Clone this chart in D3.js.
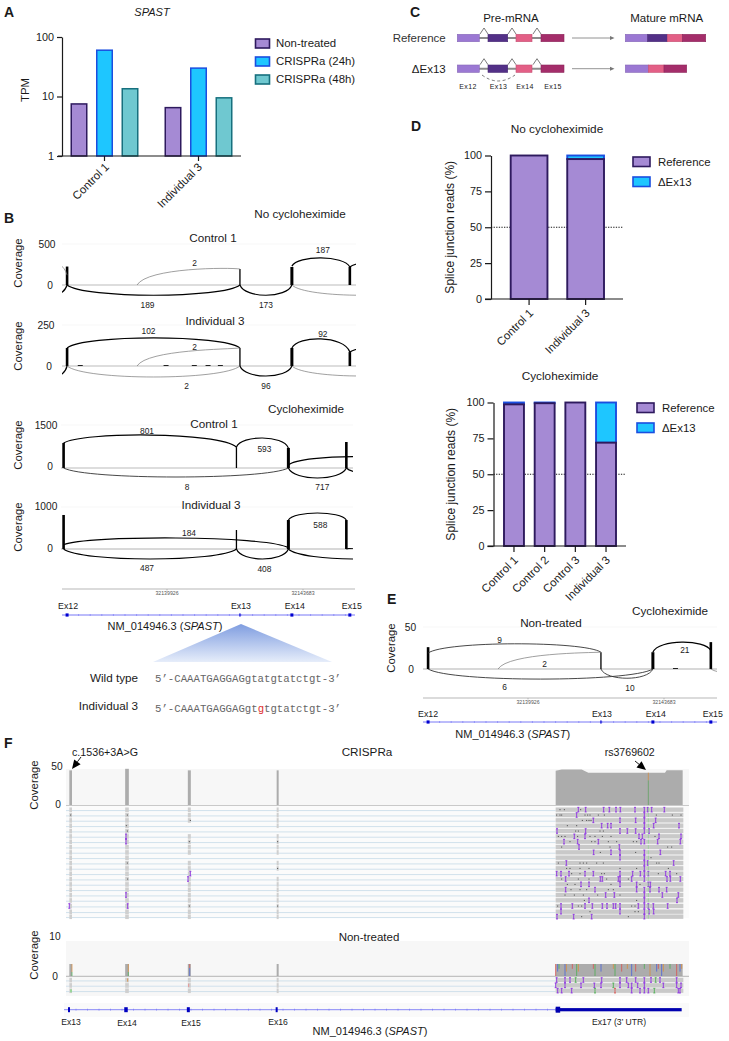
<!DOCTYPE html>
<html><head><meta charset="utf-8">
<script src="https://d3js.org/d3.v7.min.js"></script>
<style>html,body{margin:0;padding:0;background:#fff}svg{display:block}text{font-family:"Liberation Sans",Arial,sans-serif;fill:#1a1a1a}</style>
</head><body><div id="c"></div>
<script>
// ---------- DATA ----------
const tpmSamples=["Control 1","Individual 3"];
const tpmConditions=["Non-treated","CRISPRa (24h)","CRISPRa (48h)"];
const tpmControl1=[7.5,60,13.5];
const tpmIndividual3=[6.5,30,9.5];
const tpmTicks=[1,10,100];

const preExons=["Ex12","Ex13","Ex14","Ex15"];

const dNoChxSamples=["Control 1","Individual 3"];
const dNoChxRef=[100,97.5];
const dChxSamples=["Control 1","Control 2","Control 3","Individual 3"];
const dChxRef=[98.7,99.5,100,72];
const pctTicks=[0,25,50,75,100];

// genomic coordinates
const exonBp={Ex11:32135870,Ex12:32137166,Ex13:32141941,Ex14:32143376,Ex15:32144977,Ex16:32147185,Ex17:32148200,Cry:32139098};
const axisBp=[32139926,32143683];
// junctions: from, to, start coverage, peak coverage, end coverage, reads, show label
const sC1=[["Ex11","Ex12",230,320,120,1,0],["Ex11","Ex12",-60,-160,0,100,0],["Cry","Ex13",0,185,195,2,1],["Ex12","Ex13",0,-125,0,189,1],["Ex13","Ex14",0,-125,0,173,1],["Ex14","Ex15",230,330,220,187,1],["Ex14","Ex16",0,-125,0,1,0],["Ex15","Ex17",220,310,220,100,0]];
const sI3=[["Ex11","Ex12",-40,-90,0,100,0],["Ex12","Ex13",110,171,110,102,1],["Cry","Ex13",0,90,110,2,1],["Ex12","Ex13",0,-67,0,2,1],["Ex13","Ex14",0,-61,0,96,1],["Ex14","Ex15",110,165,85,92,1],["Ex14","Ex16",0,-61,0,1,0],["Ex15","Ex17",85,130,85,100,0]];
const cC1=[["Ex12","Ex13",870,1150,730,801,1],["Ex13","Ex14",730,1047,700,593,1],["Ex12","Ex14",0,-314,0,8,1],["Ex14","Ex15",0,-349,0,717,1],["Ex14","Ex16",105,400,105,100,0],["Ex15","Ex17",0,-300,0,100,0]];
const cI3=[["Ex12","Ex14",100,262,30,184,1],["Ex12","Ex13",0,-238,0,487,1],["Ex13","Ex14",0,-238,0,408,1],["Ex14","Ex15",690,857,690,588,1],["Ex14","Ex16",0,-238,0,100,0],["Ex15","Ex17",0,60,100,100,0]];
const eNT=[["Ex12","Ex13",19,30,20,9,1],["Cry","Ex13",0,17,20,2,1],["Ex12","Ex14",0,-12,0,6,1],["Ex13","Ex14",0,-11,0,10,1],["Ex14","Ex15",20,32,22,21,1],["Ex15","Ex17",0,-8,0,1,0]];
const barsC1=[225,195,220,220], barsI3=[110,110,110,85], barsCC1=[873,730,700,907], barsCI3=[810,452,690,690], barsE=[26,20,20,32];
const blipsI3=[32137530,32139900,32140680,32141060,32141400];
const blipsE=[32144000];

// IGV track coordinates
const igvExons=[{p:212,w:8,gaps:[]},{p:381,w:11,gaps:[]},{p:568,w:9,gaps:[272,288,368]},{p:833,w:6,gaps:[288,368,416]}];
const igvCovTop=[45,47,45,45];
const ex17Pos=[572,590,650,670,900,905,953];
const ex17Cov=[44.5,46,46,42,42,45,45];
const ex17Range=[572,955];
const readRows=[224,240,256,272,288,304,320,336,352,368,384,400,416,432,448,464,480,496,513,530,545];
const ex17Ins=[
[640,662,716,733,753,766,810,838,848,860,898],
[635,838],
[685,765,812,838,872],
[710,728,738,838,866,942],
[576,662,765,787,812,838,852],
[628,660,822,832,882,948],
[597,638,700,828,838,878,946],
[642,763],
[686,738,765,838,886],
[765,838],
[604,838,848,926],
[838],
[575,588,612,660,685,765,803,826,838,850,902,915],
[602,706,712,760,765,800,838,906,916,946],
[648,672,765,815,850,856],
[602,690,815,838,855,882,905],
[722,748,838,892,940],
[672,838,936],
[588,622,660,682,712,726,745,752,765,820,838,850,865,908],
[588,765,838,852,866],
[576,626,680,838]];
const ex17Dots=[
[585,598,647],
[575,585,590,660,668,675,700,718,874,922,948],
[652,665,672,678],
[607,635],
[632,640,705,715],
[580,590,600,638,675,690,712,738,870],
[615,680,690,730,755,805,815],
[590,735,908,920],
[706,812],
[858],
[580,645,655,665,695,715,875,882],
[605,615,645,672,765,815,910],
[620,645,710,718,880,935],
[590,640,672,725,790],
[607,630,738,825],
[618,645,665,730,745],
[600,628,655,698,765],
[658,815],
[578,640,650,800,810],
[675,810,820],
[650,790]];
const introIns=[[378,304],[378,320],[378,480],[383,513],[571,416],[564,432],[208,513]];
const introDots=[[212,240],[382,240],[379,272],[382,288],[382,384],[383,432],[571,256],[568,320],[568,513],[833,320],[833,400],[833,513]];
const rsPos=850;
const ntRows=[735,751,767];
const ntCovTop=3;
const ntCovTicks=[[572,"#d9534f"],[578,"#4a62d8"],[582,"#4caf50"],[600,"#4a62d8"],[604,"#d98b3a"],[622,"#d9534f"],[635,"#4caf50"],[640,"#d98b3a"],[685,"#d9534f"],[690,"#4caf50"],[708,"#4a62d8"],[745,"#d98b3a"],[750,"#4caf50"],[770,"#d9534f"],[787,"#d98b3a"],[800,"#4a62d8"],[812,"#d9534f"],[838,"#4caf50"],[855,"#d98b3a"],[875,"#4a62d8"],[880,"#d9534f"],[890,"#4a62d8"],[895,"#d98b3a"],[915,"#4caf50"],[935,"#d9534f"],[945,"#4a62d8"],[950,"#d98b3a"]];
const ntMarks=[
[[575,"i"],[600,"i"],[615,"i"],[632,"g"],[655,"i"],[710,"i"],[765,"i"],[785,"i"],[812,"i"],[838,"i"],[858,"i"],[872,"g"],[885,"i"],[935,"i"]],
[[572,"i"],[600,"i"],[648,"i"],[688,"i"],[708,"i"],[745,"g"],[765,"i"],[790,"i"],[800,"i"],[818,"i"],[838,"i"],[895,"i"],[935,"i"],[948,"i"]],
[[578,"i"],[590,"i"],[620,"i"],[690,"g"],[750,"r"],[800,"i"],[825,"i"],[838,"i"],[850,"i"],[868,"g"],[940,"i"],[945,"i"]]];
const igvGeneExons=[[207,"Ex13"],[378,"Ex14"],[565,"Ex15"],[830,"Ex16"]];

// ---------- HELPERS ----------
const W=729,H=1041;
const svg=d3.select("#c").append("svg").attr("width",W).attr("height",H);
const defs=svg.append("defs");
const PURPLE="#a58ad4",DARK="#2e1a5e",BLUE="#1ec6ff",BLUEDK="#1a4ee0",TEAL="#6fc8d0",TEALDK="#17707e";
const FS=11.4;
function T(x,y,s,o={}){const t=svg.append("text").attr("x",x).attr("y",y).attr("dy",".35em").attr("font-size",o.size||FS).attr("text-anchor",o.anchor||"middle").text(s);
 if(o.italic)t.attr("font-style","italic");if(o.bold)t.attr("font-weight","bold");if(o.rotate!=null)t.attr("transform",`rotate(${o.rotate} ${x} ${y})`);if(o.fill)t.style("fill",o.fill);if(o.font)t.style("font-family",o.font);return t;}
function rich(x,y,parts,o={}){const t=T(x,y,"",o);parts.forEach(p=>{const s=t.append("tspan").text(p[0]);if(p[1]==="i")s.attr("font-style","italic");if(p[1]&&p[1]!=="i")s.style("fill",p[1]);});return t;}
function styleAxis(g,w=1.2){g.selectAll("path,line").attr("stroke","#1a1a1a").attr("stroke-width",w);g.selectAll("text").style("font-size","10.8px").style("fill","#1a1a1a");}
function rotLabels(labels,xs,y){labels.forEach((l,i)=>T(xs[i],y,l,{anchor:"end",rotate:-45}));}
function legend(items,x,ys,tx,bw,bh){items.forEach((it,i)=>{svg.append("rect").attr("x",x).attr("y",ys[i]).attr("width",bw).attr("height",bh).attr("fill",it[1]).attr("stroke",it[2]).attr("stroke-width",1.6);T(tx,ys[i]+bh/2,it[0],{anchor:"start"});});}

// ---------- PANEL LETTERS ----------
[["A",4,12],["B",4,218],["C",410,12],["D",411,126],["E",387,599],["F",4,743]].forEach(d=>T(d[1],d[2],d[0],{anchor:"start",bold:true,size:14}));

// ---------- A ----------
(function(){
 const y=d3.scaleLog().domain([1,100]).range([156,37]);
 const x0=d3.scalePoint().domain(tpmSamples).range([104.5,198.5]);
 const x1=d3.scalePoint().domain(tpmConditions).range([-25.5,25.5]);
 const bw=15.5;
 const styles=[[PURPLE,DARK],[BLUE,BLUEDK],[TEAL,TEALDK]];
 [tpmControl1,tpmIndividual3].forEach((vals,si)=>{vals.forEach((v,ci)=>{
  svg.append("rect").attr("x",x0(tpmSamples[si])+x1(tpmConditions[ci])-bw/2).attr("y",y(v)).attr("width",bw).attr("height",y(1)-y(v))
   .attr("fill",styles[ci][0]).attr("stroke",styles[ci][1]).attr("stroke-width",1.5);});});
 svg.append("g").attr("transform","translate(62,0)").call(d3.axisLeft(y).tickValues(tpmTicks).tickFormat(d3.format("d")).tickSize(5).tickSizeOuter(0)).call(styleAxis);
 svg.append("line").attr("x1",58).attr("x2",241).attr("y1",156).attr("y2",156).attr("stroke","#1a1a1a").attr("stroke-width",1.2);
 tpmSamples.forEach(s=>svg.append("line").attr("x1",x0(s)).attr("x2",x0(s)).attr("y1",156).attr("y2",161).attr("stroke","#1a1a1a").attr("stroke-width",1.2));
 rotLabels(tpmSamples,[107,200],165);
 T(152,12,"SPAST",{italic:true,size:11});
 T(25,90,"TPM",{rotate:-90});
 legend(tpmConditions.map((c,i)=>[c,styles[i][0],styles[i][1]]),255.5,[39,57,75],276,14,9);
})();

// ---------- SASHIMI ----------
function sashimi(o){
 const x=d3.scaleLinear().domain(axisBp).range([167+o.dx,303+o.dx]);
 const y=d3.scaleLinear().domain([0,o.max]).range([o.y0,o.yTop]);
 const id="cl"+o.id;
 defs.append("clipPath").attr("id",id).append("rect").attr("x",o.xl).attr("y",o.yTop-5).attr("width",o.xr-o.xl).attr("height",o.y0-o.yTop+40);
 const g=svg.append("g").attr("clip-path",`url(#${id})`);
 g.append("line").attr("x1",o.xl).attr("x2",o.xr).attr("y1",o.yTop).attr("y2",o.yTop).attr("stroke","#f2f2f2").attr("stroke-width",.6);
 g.append("line").attr("x1",o.xl).attr("x2",o.xr).attr("y1",o.y0).attr("y2",o.y0).attr("stroke",o.thick?"#d8d8d8":"#aaa").attr("stroke-width",o.thick?2:.8);
 const ex=["Ex12","Ex13","Ex14","Ex15"],ew=[2.6,1.3,3,2.6];
 o.bars.forEach((v,i)=>{const X=x(exonBp[ex[i]]);g.append("rect").attr("x",X-ew[i]/2).attr("y",y(v)).attr("width",ew[i]).attr("height",o.y0-y(v)).attr("fill","#000");});
 (o.blips||[]).forEach(b=>g.append("rect").attr("x",x(b)-2.5).attr("y",o.y0-1).attr("width",5).attr("height",1).attr("fill","#222"));
 o.arcs.forEach((a,i)=>{
  const x0=x(exonBp[a[0]]),x1=x(exonBp[a[1]]),w=x1-x0;
  const ys=y(a[2]),ye=y(a[4]),yp=y(a[3]);
  const c=(yp-(ys+ye)/8)/0.75;
  const p=d3.path();p.moveTo(x0,ys);p.bezierCurveTo(x0+w*0.1,c,x1-w*0.1,c,x1,ye);
  const thin=a[5]<=2;
  g.append("path").attr("d",p.toString()).attr("fill","none").attr("stroke",thin?"#777":(a[5]<=10?"#333":"#000")).attr("stroke-width",thin?.7:(a[5]<=10?.9:1.2));
  if(a[6]){const n=o.nudge[i]||[0,0];T((x0+x1)/2+n[0],yp+n[1],String(a[5]),{size:8.4});}
 });
}
sashimi({id:1,dx:0,y0:285,yTop:244,max:500,xl:62,xr:356,bars:barsC1,arcs:sC1,nudge:{2:[6,-7],3:[-6,10],4:[0,10],5:[2,-8]}});
sashimi({id:2,dx:0,y0:366,yTop:325,max:250,xl:62,xr:356,bars:barsI3,arcs:sI3,blips:blipsI3,nudge:{1:[-5,-7],2:[6,-4],3:[33,9.5],4:[0,10],5:[2,-5]}});
sashimi({id:3,dx:-3.5,y0:468,yTop:425,max:1500,xl:61,xr:353,bars:barsCC1,arcs:cC1,nudge:{0:[-3,-4],1:[2,11],2:[11,10],3:[5,9]}});
sashimi({id:4,dx:-3.5,y0:549,yTop:507,max:1000,xl:61,xr:353,thick:true,bars:barsCI3,arcs:cI3,nudge:{0:[13,-5],1:[-3,9],2:[2,10],3:[3,12]}});
sashimi({id:5,dx:361,y0:669,yTop:627,max:50,xl:423,xr:717,thick:true,bars:barsE,arcs:eNT,blips:blipsE,nudge:{0:[-15,-4],1:[-5,9],2:[-36,8],3:[3,10],4:[3,8]}});

// B labels
const TS=11.7;
T(300,214,"No cycloheximide",{size:TS});T(213,238,"Control 1",{size:TS});T(215,321,"Individual 3",{size:TS});
T(306,409,"Cycloheximide",{size:TS});T(214,424,"Control 1",{size:TS});T(211,505,"Individual 3",{size:TS});
[[18,263],[18,346],[18,445],[18,527]].forEach(p=>T(p[0],p[1],"Coverage",{rotate:-90}));
[["500",47,244],["0",50,285],["250",46,325],["0",49,366],["1500",46,425],["0",50,466],["1000",46,506],["0",50,548]].forEach(d=>T(d[1],d[2],d[0],{size:10.2}));

// Gene tracks
function geneTrack(dx,yAxis,yLab,yGene,yName,xn,labDx,xl,xr){
 const x=d3.scaleLinear().domain(axisBp).range([167+dx,303+dx]);
 svg.append("line").attr("x1",xl).attr("x2",xr).attr("y1",yAxis).attr("y2",yAxis).attr("stroke","#999").attr("stroke-width",.7);
 axisBp.forEach(b=>{svg.append("line").attr("x1",x(b)).attr("x2",x(b)).attr("y1",yAxis).attr("y2",yAxis+1.5).attr("stroke","#999").attr("stroke-width",.6);T(x(b),yAxis+4.3,String(b),{size:5.2,fill:"#555"});});
 svg.append("line").attr("x1",xl).attr("x2",xr).attr("y1",yGene).attr("y2",yGene).attr("stroke","#6a6af5").attr("stroke-width",.9);
 d3.range(xl+5,xr,11.6).forEach(t=>svg.append("line").attr("x1",t).attr("x2",t).attr("y1",yGene-1).attr("y2",yGene+1).attr("stroke","#6a6af5").attr("stroke-width",.5));
 ["Ex12","Ex13","Ex14","Ex15"].forEach((e,i)=>{const X=x(exonBp[e]),w=[3,1.2,3,3][i];
  svg.append("rect").attr("x",X-w/2).attr("y",yGene-1.6).attr("width",w).attr("height",3.2).attr("fill","#0000d0");
  T(X+labDx[i],yLab,e,{size:8.8});});
 rich(xn,yName,[["NM_014946.3 ("],["SPAST","i"],[")"]],{size:11});
}
geneTrack(0,589,606,615,626,165,[1,1,3,2],62,355);
geneTrack(361,698,714,722,734,512.7,[0,1,3,2],423,717);

// triangle
const grad=defs.append("linearGradient").attr("id","tri").attr("x1",0).attr("x2",0).attr("y1",0).attr("y2",1);
grad.append("stop").attr("offset",0).attr("stop-color","#7f9de0");grad.append("stop").attr("offset",1).attr("stop-color","#e6edfa");
svg.append("path").attr("d",d3.line()([[241,624],[332,662],[153,662]])+"Z").attr("fill","url(#tri)");

T(138,678,"Wild type",{anchor:"end",size:11.7});
T(138,706,"Individual 3",{anchor:"end",size:11.7});
const MONO='"Liberation Mono",monospace';
rich(155,678,[["5’-CAAATGAGGAGgtatgtatctgt-3’"]],{anchor:"start",size:10.7,fill:"#666",font:MONO});
rich(155,708,[["5’-CAAATGAGGAGgt"],["g","#e03030"],["tgtatctgt-3’"]],{anchor:"start",size:10.7,fill:"#666",font:MONO});

// ---------- C ----------
(function(){
 const cols=["#9b78d3","#533087","#e35f86","#a42d6a"];
 const pre=[[457.3,479.3],[488,507.7],[516,532],[541,564]];
 [38,68.7].forEach((yc,r)=>{
  svg.append("line").attr("x1",479).attr("x2",541).attr("y1",yc).attr("y2",yc).attr("stroke","#8c8c8c").attr("stroke-width",2);
  pre.forEach((p,i)=>svg.append("rect").attr("x",p[0]).attr("y",yc-3.7).attr("width",p[1]-p[0]).attr("height",7.4).attr("fill",cols[i]).attr("stroke",d3.color(cols[i]).darker(.4)).attr("stroke-width",.6));
  [[480,488],[508,516],[533,541]].forEach(c=>svg.append("path").attr("d",d3.line()([[c[0],yc-4],[(c[0]+c[1])/2,yc-10],[c[1],yc-4]])).attr("fill","none").attr("stroke","#444").attr("stroke-width",.7));
  svg.append("line").attr("x1",572).attr("x2",612).attr("y1",yc).attr("y2",yc).attr("stroke","#777").attr("stroke-width",.8);
  svg.append("path").attr("d",d3.line()([[610,yc-2],[614.5,yc],[610,yc+2]])+"Z").attr("fill","#777");
 });
 const mat=[[[625.3,647.7,0],[647.7,667.3,1],[667.3,682.3,2],[682.3,705.7,3]],[[625.3,648.3,0],[648.3,664,2],[664,686.7,3]]];
 mat.forEach((m,r)=>m.forEach(s=>svg.append("rect").attr("x",s[0]).attr("y",[38,68.7][r]-3.7).attr("width",s[1]-s[0]).attr("height",7.4).attr("fill",cols[s[2]]).attr("stroke",d3.color(cols[s[2]]).darker(.4)).attr("stroke-width",.6)));
 svg.append("path").attr("d","M482,75 Q498,87 515,75").attr("fill","none").attr("stroke","#444").attr("stroke-width",.7).attr("stroke-dasharray","3 2.5");
 T(445.7,38,"Reference",{anchor:"end",size:11.5,fill:"#333"});
 T(445.7,68.7,"ΔEx13",{anchor:"end",size:11.5});
 T(511,18,"Pre-mRNA",{size:11.5});T(666.7,18,"Mature mRNA",{size:11.5});
 preExons.forEach((e,i)=>T([468,498.5,525,553][i],87,e,{size:7}).attr("letter-spacing",".4"));
})();

// ---------- D ----------
function stackedPanel(samples,ref,o){
 const y=d3.scaleLinear().domain([0,100]).range([o.y0,o.y1]);
 const x=d3.scaleBand().domain(samples).range(o.xr).paddingInner(o.pad).paddingOuter(0);
 const rows=samples.map((s,i)=>({s,Reference:ref[i],Delta:100-ref[i]}));
 const st=d3.stack().keys(["Reference","Delta"])(rows);
 svg.append("line").attr("x1",o.ax).attr("x2",o.ae).attr("y1",y(50)).attr("y2",y(50)).attr("stroke","#1a1a1a").attr("stroke-width",1).attr("stroke-dasharray","1.3 1.3");
 const sty=[[PURPLE,DARK],[BLUE,BLUEDK]];
 [1,0].forEach(k=>st[k].forEach(d=>{if(d[1]-d[0]<=0)return;
  svg.append("rect").attr("x",x(d.data.s)).attr("y",y(d[1])).attr("width",x.bandwidth()).attr("height",y(d[0])-y(d[1])).attr("fill",sty[k][0]).attr("stroke",sty[k][1]).attr("stroke-width",1.9);}));
 svg.append("g").attr("transform",`translate(${o.ax},0)`).call(d3.axisLeft(y).tickValues(pctTicks).tickSize(6).tickSizeOuter(0)).call(styleAxis);
 svg.append("line").attr("x1",o.ax-6).attr("x2",o.ae).attr("y1",o.y0).attr("y2",o.y0).attr("stroke","#1a1a1a").attr("stroke-width",1.2);
 const xs=samples.map(s=>x(s)+x.bandwidth()/2);
 xs.forEach(X=>svg.append("line").attr("x1",X).attr("x2",X).attr("y1",o.y0).attr("y2",o.y0+6).attr("stroke","#1a1a1a").attr("stroke-width",1.2));
 rotLabels(samples,xs.map(X=>X+2),o.y0+12);
 T(o.lab,(o.y0+o.y1)/2+o.labDy,"Splice junction reads (%)",{rotate:-90,size:12});
 T(o.tx,o.ty,o.title,{size:11.8});
 legend([["Reference",PURPLE,DARK],["ΔEx13",BLUE,BLUEDK]],o.lx,[o.ly,o.ly+20],o.ltx,17,9.5);
}
stackedPanel(dNoChxSamples,dNoChxRef,{y0:299,y1:155.5,xr:[510.7,604],pad:0.35,ax:491,ae:623,lab:450,labDy:0,tx:557,ty:129,title:"No cycloheximide",lx:633,ly:157,ltx:658});
stackedPanel(dChxSamples,dChxRef,{y0:546,y1:402.5,xr:[504,616],pad:0.35,ax:493.5,ae:626,lab:451,labDy:0,tx:560,ty:376,title:"Cycloheximide",lx:637,ly:403,ltx:662});

// ---------- E labels ----------
T(551,623,"Non-treated",{size:11.7});T(670,611,"Cycloheximide",{size:11.7});
T(391,648,"Coverage",{rotate:-90});T(410.5,627,"50",{size:10.2});T(411,669,"0",{size:10.2});

// ---------- F ----------
(function(){
 const ix=d3.scaleLinear().domain([0,2187]).range([0,729]);
 const BASE=1095, rowY=z=>735+z/3;
 const cy=d3.scaleLinear().domain([0,50]).range([805,766.5]);
 const ny=d3.scaleLinear().domain([0,10]).range([976,936]);
 const XL=66,XR=689;
 svg.append("rect").attr("x",XL).attr("y",769).attr("width",XR-XL).attr("height",36).attr("fill","#f7f7f7");
 svg.append("rect").attr("x",XL).attr("y",806).attr("width",XR-XL).attr("height",112).attr("fill","#fbfbfb");
 svg.append("rect").attr("x",XL).attr("y",941).attr("width",XR-XL).attr("height",55).attr("fill","#f7f7f7");
 // CRISPRa coverage
 igvExons.forEach((e,i)=>svg.append("rect").attr("x",ix(e.p)-ix(e.w)/2).attr("y",cy(igvCovTop[i])).attr("width",ix(e.w)).attr("height",cy(0)-cy(igvCovTop[i])).attr("fill","#acacac"));
 const area=d3.area().x((d,i)=>ix(ex17Pos[i]+BASE)).y0(cy(0)).y1(d=>cy(d));
 svg.append("path").attr("d",area(ex17Cov)).attr("fill","#acacac");
 svg.append("line").attr("x1",ix(rsPos+BASE)).attr("x2",ix(rsPos+BASE)).attr("y1",cy(42)).attr("y2",cy(32)).attr("stroke","#d98b3a").attr("stroke-width",.7);
 svg.append("line").attr("x1",ix(rsPos+BASE)).attr("x2",ix(rsPos+BASE)).attr("y1",cy(32)).attr("y2",cy(0)).attr("stroke","#5aa05a").attr("stroke-width",.7);
 svg.append("line").attr("x1",XL).attr("x2",XR).attr("y1",805.5).attr("y2",805.5).attr("stroke","#bbb").attr("stroke-width",.8);
 // Reads
 function reads(rows){
  rows.forEach(z=>{const Y=rowY(z);
   svg.append("line").attr("x1",XL).attr("x2",ix(ex17Range[0]+BASE)).attr("y1",Y+.9).attr("y2",Y+.9).attr("stroke","#c6dbe9").attr("stroke-width",.8);
   igvExons.forEach(e=>{if(e.gaps.includes(z))return;svg.append("rect").attr("x",ix(e.p)-ix(e.w)/2).attr("y",Y-2.2).attr("width",ix(e.w)).attr("height",4.6).attr("fill","#cfcfcf");});
   svg.append("rect").attr("x",ix(ex17Range[0]+BASE)).attr("y",Y-2.2).attr("width",ix(ex17Range[1]-ex17Range[0])).attr("height",4.4).attr("fill","#c9c9c9");
  });
 }
 reads(readRows);reads(ntRows);
 const ins=(px,Y,col="#8a2be2")=>{const g=svg.append("g").attr("stroke",col).attr("stroke-width",.85);
  g.append("line").attr("x1",px).attr("x2",px).attr("y1",Y-2.3).attr("y2",Y+2.3);
  g.append("line").attr("x1",px-1).attr("x2",px+1).attr("y1",Y-2.3).attr("y2",Y-2.3);
  g.append("line").attr("x1",px-1).attr("x2",px+1).attr("y1",Y+2.3).attr("y2",Y+2.3);};
 const dot=(px,Y)=>svg.append("rect").attr("x",px-.5).attr("y",Y-.4).attr("width",1).attr("height",.9).attr("fill","#333");
 readRows.forEach((z,i)=>{const Y=rowY(z);
  ex17Dots[i].forEach(p=>dot(ix(p+BASE),Y));
  ex17Ins[i].forEach(p=>ins(ix(p+BASE),Y));
  svg.append("line").attr("x1",ix(rsPos+BASE)).attr("x2",ix(rsPos+BASE)).attr("y1",Y-2).attr("y2",Y+2).attr("stroke","#7fd67f").attr("stroke-width",.6);
 });
 introIns.forEach(d=>ins(ix(d[0]),rowY(d[1])));
 introDots.forEach(d=>dot(ix(d[0]),rowY(d[1])));
 // Non-treated coverage
 igvExons.forEach(e=>svg.append("rect").attr("x",ix(e.p)-ix(e.w)/2).attr("y",ny(ntCovTop)).attr("width",ix(e.w)).attr("height",ny(0)-ny(ntCovTop)).attr("fill","#acacac"));
 svg.append("rect").attr("x",ix(ex17Range[0]+BASE)).attr("y",ny(ntCovTop)).attr("width",ix(381)).attr("height",ny(0)-ny(ntCovTop)).attr("fill","#acacac");
 svg.append("line").attr("x1",XL).attr("x2",XR).attr("y1",976.3).attr("y2",976.3).attr("stroke","#999").attr("stroke-width",.7);
 ntCovTicks.forEach((t,i)=>svg.append("line").attr("x1",ix(t[0]+BASE)).attr("x2",ix(t[0]+BASE)).attr("y1",ny(ntCovTop)).attr("y2",ny(i%3===0?0:(i%3===1?1.1:1.8))).attr("stroke",t[1]).attr("stroke-width",.8));
 [[213,"#d98b3a",3,1],[213,"#4caf50",1,0],[382,"#d98b3a",3,1],[382,"#4caf50",1,0],[566,"#d9534f",3,2],[566,"#4a62d8",2,0]].forEach(d=>svg.append("line").attr("x1",ix(d[0])+1).attr("x2",ix(d[0])+1).attr("y1",ny(d[2])).attr("y2",ny(d[3])).attr("stroke",d[1]).attr("stroke-width",.7));
 const mcol={i:"#8a2be2",g:"#4caf50",r:"#d9534f"};
 ntRows.forEach((z,i)=>ntMarks[i].forEach(m=>ins(ix(m[0]+BASE),rowY(z),mcol[m[1]])));
 svg.append("line").attr("x1",ix(213)).attr("x2",ix(213)).attr("y1",rowY(763)).attr("y2",rowY(772)).attr("stroke","#4de04d").attr("stroke-width",.8);
 svg.append("line").attr("x1",ix(383)).attr("x2",ix(383)).attr("y1",rowY(730)).attr("y2",rowY(740)).attr("stroke","#d98b3a").attr("stroke-width",.8);
 svg.append("line").attr("x1",ix(566)).attr("x2",ix(566)).attr("y1",rowY(746)).attr("y2",rowY(756)).attr("stroke","#e88").attr("stroke-width",.8);
 // Gene model
 const gy=1009.7;
 svg.append("rect").attr("x",64).attr("y",1003).attr("width",625).attr("height",14).attr("fill","#fafafa");
 svg.append("line").attr("x1",64).attr("x2",ix(ex17Range[0]+BASE)).attr("y1",gy).attr("y2",gy).attr("stroke","#6a6af5").attr("stroke-width",.8);
 d3.range(76,556,11.5).forEach(t=>svg.append("line").attr("x1",t).attr("x2",t).attr("y1",gy-1).attr("y2",gy+1).attr("stroke","#6a6af5").attr("stroke-width",.5));
 igvGeneExons.forEach((e,i)=>{const w=[2,3.5,3,2][i];svg.append("rect").attr("x",ix(e[0])-w/2).attr("y",gy-2.5).attr("width",w).attr("height",5).attr("fill","#0000c0");
  T([71,127,191,278][i],i===0||i===3?1022:1023,e[1],{size:8.6});});
 svg.append("rect").attr("x",ix(ex17Range[0]+BASE)).attr("y",gy-1.6).attr("width",ix(378)).attr("height",3.2).attr("fill","#0000b0");
 svg.append("rect").attr("x",ix(ex17Range[0]+BASE)).attr("y",gy-3).attr("width",4.5).attr("height",6).attr("fill","#0000b0");
 T(619,1022,"Ex17 (3’ UTR)",{size:8.6});
 rich(370,1031,[["NM_014946.3 ("],["SPAST","i"],[")"]],{size:11});
 // Labels
 T(34,785,"Coverage",{rotate:-90});T(34,955,"Coverage",{rotate:-90});
 T(57,766,"50",{size:10.2});T(58,804,"0",{size:10.2});T(55,936,"10",{size:10.2});T(55,976,"0",{size:10.2});
 T(367,752,"CRISPRa",{size:11.7});T(369,937,"Non-treated",{size:11.5});
 T(72,752,"c.1536+3A>G",{anchor:"start",size:10.7});T(629.7,752,"rs3769602",{size:10.6});
 function arrow(x1,y1,x2,y2){const a=Math.atan2(y2-y1,x2-x1),L=9,W2=4;
  svg.append("line").attr("x1",x1).attr("y1",y1).attr("x2",x2-Math.cos(a)*L).attr("y2",y2-Math.sin(a)*L).attr("stroke","#000").attr("stroke-width",.9);
  const bx=x2-Math.cos(a)*L,by=y2-Math.sin(a)*L;
  svg.append("path").attr("d",d3.line()([[x2,y2],[bx+Math.sin(a)*W2,by-Math.cos(a)*W2],[bx-Math.sin(a)*W2,by+Math.cos(a)*W2]])+"Z").attr("fill","#000");}
 arrow(81,757,72,769);arrow(635,761,646,770);
})();
</script></body></html>
